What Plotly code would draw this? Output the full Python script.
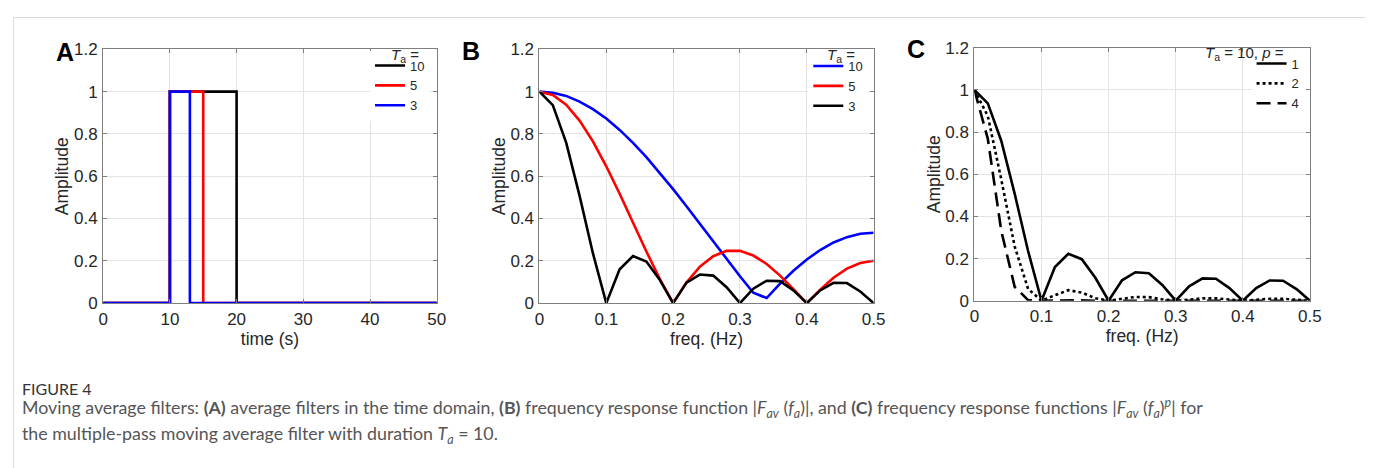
import plotly.graph_objects as go

W, H = 1373, 468

# ---------------- data ----------------
# Panel A: rectangular averaging windows (step functions, onset at 10 s)
win10_time = [0, 10, 20, 50]
win10_amp = [0, 1, 0, 0]
win5_time = [0, 10, 15, 50]
win5_amp = [0, 1, 0, 0]
win3_time = [0, 10, 13, 50]
win3_amp = [0, 1, 0, 0]

# Panels B & C: frequency axis (Hz)
freq = [0.00, 0.02, 0.04, 0.06, 0.08, 0.10, 0.12, 0.14, 0.16, 0.18, 0.20,
        0.22, 0.24, 0.26, 0.28, 0.30, 0.32, 0.34, 0.36, 0.38, 0.40,
        0.42, 0.44, 0.46, 0.48, 0.50]

# Panel B series
resp_blue_10 = [1.00, 0.995, 0.98, 0.953, 0.917, 0.873, 0.819, 0.758, 0.69, 0.617, 0.539,
                0.458, 0.375, 0.291, 0.208, 0.127, 0.049, 0.024, 0.092, 0.153, 0.206,
                0.251, 0.287, 0.312, 0.328, 0.333]
resp_red_5 = [1.00, 0.984, 0.938, 0.863, 0.765, 0.647, 0.517, 0.38, 0.244, 0.115, 0.0,
              0.097, 0.172, 0.222, 0.247, 0.247, 0.225, 0.185, 0.13, 0.066, 0.0,
              0.064, 0.12, 0.163, 0.19, 0.2]
resp_black_3 = [1.00, 0.936, 0.759, 0.508, 0.236, 0.0, 0.16, 0.223, 0.197, 0.11, 0.0,
                0.097, 0.135, 0.13, 0.075, 0.0, 0.068, 0.106, 0.104, 0.06, 0.0,
                0.06, 0.096, 0.095, 0.055, 0.0]

# Panel C series (Ta = 10, p passes)
pass1 = [1.00, 0.936, 0.759, 0.508, 0.236, 0.0, 0.16, 0.223, 0.197, 0.11, 0.0,
         0.097, 0.135, 0.13, 0.075, 0.0, 0.068, 0.106, 0.104, 0.06, 0.0,
         0.06, 0.096, 0.095, 0.055, 0.0]
pass2 = [1.00, 0.876, 0.576, 0.258, 0.056, 0.0, 0.026, 0.05, 0.039, 0.012, 0.0,
         0.009, 0.018, 0.017, 0.006, 0.0, 0.005, 0.011, 0.011, 0.004, 0.0,
         0.004, 0.009, 0.009, 0.003, 0.0]
pass4 = [1.00, 0.768, 0.332, 0.066, 0.003, 0.0, 0.001, 0.002, 0.002, 0.0, 0.0,
         0.0, 0.0, 0.0, 0.0, 0.0, 0.0, 0.0, 0.0, 0.0, 0.0,
         0.0, 0.0, 0.0, 0.0, 0.0]

amp_ticks = [0, 0.2, 0.4, 0.6, 0.8, 1, 1.2]
time_ticks = [0, 10, 20, 30, 40, 50]
freq_ticks = [0, 0.1, 0.2, 0.3, 0.4, 0.5]

# ---------------- placement (target picture pixel -> paper fraction) ----------------
SX, OX = 0.987, 13.2
SY, OY = 0.958, 16.0

def px_x(p):
    return ((p - OX) / SX) / W

def px_y(p):
    return 1 - ((p - OY) / SY) / H

FONT = "Arial, Liberation Sans, sans-serif"
AX_LINE = "#7f7f7f"
GRID = "#e4e4e4"
TXT = "#262626"
TICKFONT = dict(family=FONT, size=17, color=TXT)
TITLEFONT = dict(family=FONT, size=17.5, color=TXT)

panels = {
    "A": dict(x0=103.3, x1=436.7, y0=48.3, y1=301.7),
    "B": dict(x0=539.3, x1=873.3, y0=48.3, y1=301.7),
    "C": dict(x0=974.0, x1=1309.3, y0=46.7, y1=299.3),
}

def xaxis(p, rng, ticks, title, anchor):
    d = panels[p]
    return dict(domain=[px_x(d["x0"]), px_x(d["x1"])], range=rng, tickvals=ticks, anchor=anchor,
                showline=True, linecolor=AX_LINE, linewidth=1, mirror="ticks",
                ticks="inside", ticklen=4, tickcolor=AX_LINE,
                showgrid=True, gridcolor=GRID, gridwidth=1, zeroline=False,
                tickfont=TICKFONT, ticklabelstandoff=0,
                title=dict(text=title, font=TITLEFONT, standoff=0),
                fixedrange=True)

def yaxis(p, rng, ticks, anchor):
    d = panels[p]
    return dict(domain=[px_y(d["y1"]), px_y(d["y0"])], range=rng, tickvals=ticks, anchor=anchor,
                showline=True, linecolor=AX_LINE, linewidth=1, mirror="ticks",
                ticks="inside", ticklen=4, tickcolor=AX_LINE,
                showgrid=True, gridcolor=GRID, gridwidth=1, zeroline=False,
                tickfont=TICKFONT, ticklabelstandoff=1,
                title=dict(text="Amplitude", font=TITLEFONT, standoff=0),
                fixedrange=True)

fig = go.Figure()
LW = 2.6

# Panel A
fig.add_trace(go.Scatter(x=win10_time, y=win10_amp, mode="lines", line=dict(color="black", width=LW, shape="hv"),
                         name="10", xaxis="x", yaxis="y", legend="legend"))
fig.add_trace(go.Scatter(x=win5_time, y=win5_amp, mode="lines", line=dict(color="#ff0000", width=LW, shape="hv"),
                         name="5", xaxis="x", yaxis="y", legend="legend"))
fig.add_trace(go.Scatter(x=win3_time, y=win3_amp, mode="lines", line=dict(color="#0000ff", width=LW, shape="hv"),
                         name="3", xaxis="x", yaxis="y", legend="legend"))

# Panel B
fig.add_trace(go.Scatter(x=freq, y=resp_blue_10, mode="lines", line=dict(color="#0000ff", width=LW),
                         name="10", xaxis="x2", yaxis="y2", legend="legend2"))
fig.add_trace(go.Scatter(x=freq, y=resp_red_5, mode="lines", line=dict(color="#ff0000", width=LW),
                         name="5", xaxis="x2", yaxis="y2", legend="legend2"))
fig.add_trace(go.Scatter(x=freq, y=resp_black_3, mode="lines", line=dict(color="black", width=LW),
                         name="3", xaxis="x2", yaxis="y2", legend="legend2"))

# Panel C
fig.add_trace(go.Scatter(x=freq, y=pass1, mode="lines", line=dict(color="black", width=LW),
                         name="1", xaxis="x3", yaxis="y3", legend="legend3"))
fig.add_trace(go.Scatter(x=freq, y=pass2, mode="lines", line=dict(color="black", width=LW, dash="dot"),
                         name="2", xaxis="x3", yaxis="y3", legend="legend3"))
fig.add_trace(go.Scatter(x=freq, y=pass4, mode="lines", line=dict(color="black", width=LW, dash="14px,7px"),
                         name="4", xaxis="x3", yaxis="y3", legend="legend3"))

def legend_cfg(line_x, top_y):
    return dict(x=px_x(line_x - 5), xanchor="left", y=px_y(top_y), yanchor="top",
                bgcolor="white", borderwidth=0,
                font=dict(family=FONT, size=13, color=TXT),
                tracegroupgap=0, itemwidth=30, traceorder="normal")

fig.update_layout(
    width=W, height=H,
    margin=dict(l=0, r=0, t=0, b=0),
    paper_bgcolor="white", plot_bgcolor="white",
    font=dict(family=FONT, color=TXT),
    xaxis=xaxis("A", [0, 50], time_ticks, "time (s)", "y"),
    yaxis=yaxis("A", [0, 1.2], amp_ticks, "x"),
    xaxis2=xaxis("B", [0, 0.5], freq_ticks, "freq. (Hz)", "y2"),
    yaxis2=yaxis("B", [0, 1.2], amp_ticks, "x2"),
    xaxis3=xaxis("C", [0, 0.5], freq_ticks, "freq. (Hz)", "y3"),
    yaxis3=yaxis("C", [0, 1.2], amp_ticks, "x3"),
    legend=legend_cfg(375, 49.5),
    legend2=legend_cfg(813, 50),
    legend3=legend_cfg(1256, 47.5),
)

# Legend headers
for txt, cx, cy in [("<i>T</i><sub>a</sub> =", 421, 54),
                    ("<i>T</i><sub>a</sub> =", 857, 54),
                    ("<i>T</i><sub>a</sub> = 10, <i>p</i> =", 1285, 52.5)]:
    fig.add_annotation(text=txt, x=px_x(cx), y=px_y(cy), xref="paper", yref="paper", showarrow=False,
                       xanchor="right", yanchor="middle", font=dict(family=FONT, size=15, color=TXT))

# Panel letters
for letter, cx, cy in [("A", 65.5, 51), ("B", 471, 50), ("C", 916, 48)]:
    fig.add_annotation(text=f"<b>{letter}</b>", x=px_x(cx), y=px_y(cy), xref="paper", yref="paper",
                       showarrow=False, xanchor="center", yanchor="middle",
                       font=dict(family=FONT, size=25, color="black"))

# Outer frame
fig.add_shape(type="rect", xref="paper", yref="paper", x0=0.5 / W, x1=px_x(1366.5), y0=-0.1, y1=1 - 0.5 / H,
              line=dict(color="#dcdcdc", width=1))

# Caption
CAP = "Lato, Open Sans, sans-serif"
fig.add_annotation(text="FIGURE 4", x=px_x(20), y=px_y(387), xref="paper", yref="paper", showarrow=False,
                   xanchor="left", yanchor="middle", font=dict(family=CAP, size=16, color="#333333"))
line1 = ("Moving average filters: <b>(A)</b> average filters in the time domain, <b>(B)</b> frequency response function "
         "|<i>F</i><sub><i>av</i></sub> (<i>f</i><sub><i>a</i></sub>)|, and <b>(C)</b> frequency response functions "
         "|<i>F</i><sub><i>av</i></sub> (<i>f</i><sub><i>a</i></sub>)<sup><i>p</i></sup>| for")
line2 = "the multiple-pass moving average filter with duration <i>T</i><sub><i>a</i></sub> = 10."
fig.add_annotation(text=line1, x=px_x(20), y=px_y(406), xref="paper", yref="paper", showarrow=False,
                   xanchor="left", yanchor="middle", font=dict(family=CAP, size=17.8, color="#555555"))
fig.add_annotation(text=line2, x=px_x(20), y=px_y(433), xref="paper", yref="paper", showarrow=False,
                   xanchor="left", yanchor="middle", font=dict(family=CAP, size=17.8, color="#555555"))

fig.write_html("out.html")
